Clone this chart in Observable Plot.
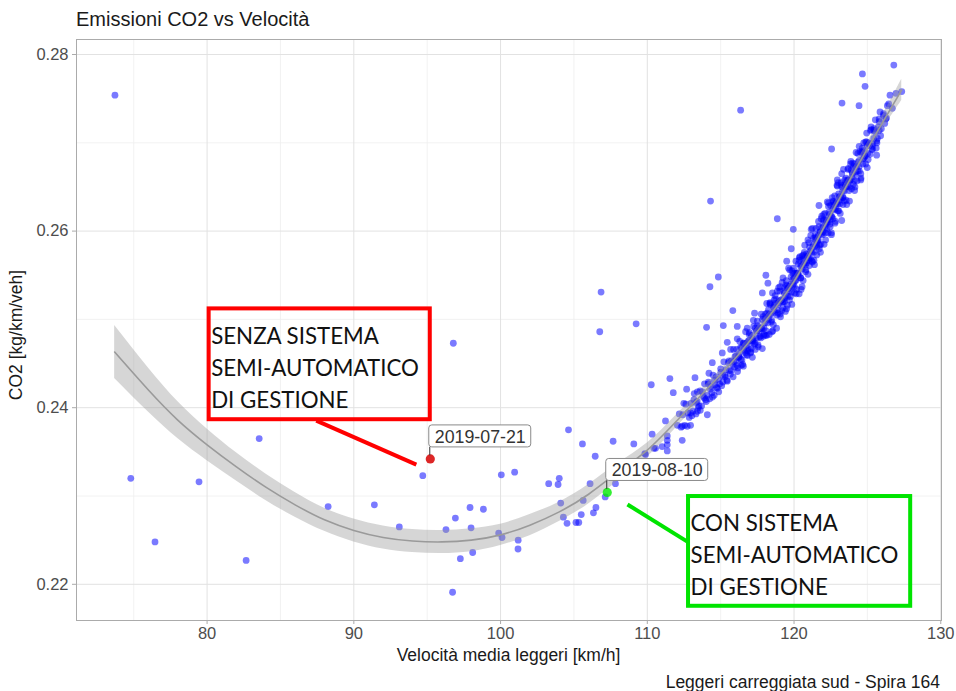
<!DOCTYPE html>
<html><head><meta charset="utf-8">
<script src="https://cdn.jsdelivr.net/npm/d3@7"></script>
<script src="https://cdn.jsdelivr.net/npm/@observablehq/plot@0.6"></script>
<style>
html,body{margin:0;padding:0;background:#fff;}
#chart{position:relative;width:956px;height:691px;overflow:hidden;}
</style></head><body><div id="chart"></div>
<script>
// ---- texts ----
const titleText = "Emissioni CO2 vs Velocità";
const xTitle = "Velocità media leggeri [km/h]";
const yTitle = "CO2 [kg/km/veh]";
const captionText = "Leggeri carreggiata sud - Spira 164";

// ---- ticks ----
const xMajor = [80, 90, 100, 110, 120, 130];
const xMinor = [75, 85, 95, 105, 115, 125];
const yMajor = [0.22, 0.24, 0.26, 0.28];
const yMinor = [0.23, 0.25, 0.27];

// ---- scattered daily observations (speed km/h, CO2 kg/km/veh) ----
const sparseSpeed = [73.72,74.8,76.45,79.45,82.66,83.55,88.25,91.4,93.1,94.7,96.78,96.28,96.92,97.26,96.73,97.92,97.99,98.1,98.83,99.87,100.1,100.05,100.96,101.2,101.19,103.28,104.0,103.92,104.1,104.28,104.53,105.14,105.33,105.5,105.63,106.1,106.33,106.5,107.13,104.63,105.58,106.45,107.67,107.83,109.08,109.83,110.33,110.56,110.27,106.85,106.76,109.24,114.84,114.27,114.31,116.36,118.08,117.84,118.22,118.86,119.95,119.81,119.5,115.83,117.31,114.04,115.18,116.13,116.81,115.45,116.13,117.16,117.84,114.43,115.11,115.68,114.2,111.54,111.77,112.68,113.25,113.41,112.49,111.24,112.38,111.36,111.36,111.36,111.36,111.01,110.45,109.88,112.95,113.41,112.38,112.72,112.95,114.09,121.7,122.95,122.56,123.27,124.43,124.66,124.84,126.8,127.34,126.54,126.36,125.86,125.8,126.18,125.8,125.63,125.0,125.34,125.63,124.13,123.25];
const sparseCo2 = [0.2754,0.2320,0.2248,0.2316,0.2227,0.2365,0.2288,0.2290,0.2265,0.2323,0.2473,0.2262,0.2275,0.2229,0.2191,0.2287,0.2264,0.2236,0.2285,0.2258,0.2253,0.2324,0.2327,0.2250,0.2240,0.2314,0.2320,0.2313,0.2292,0.2276,0.2269,0.2270,0.2270,0.2279,0.2295,0.2314,0.2281,0.2287,0.2299,0.2375,0.2359,0.2345,0.2362,0.2314,0.2359,0.2348,0.2370,0.2354,0.2426,0.2531,0.2486,0.2495,0.2548,0.2537,0.2634,0.2737,0.2550,0.2530,0.2541,0.2614,0.2602,0.2580,0.2566,0.2510,0.2507,0.2491,0.2493,0.2492,0.2490,0.2474,0.2478,0.2457,0.2467,0.2451,0.2462,0.2466,0.2439,0.2433,0.2417,0.2421,0.2434,0.2418,0.2405,0.2385,0.2363,0.2368,0.2363,0.2358,0.2351,0.2356,0.2354,0.2347,0.2394,0.2396,0.2379,0.2379,0.2380,0.2392,0.2629,0.2658,0.2693,0.2745,0.2742,0.2778,0.2764,0.2788,0.2758,0.2754,0.2742,0.2735,0.2727,0.2722,0.2714,0.2702,0.2697,0.2692,0.2686,0.2646,0.2612];

// ---- dense band of observations (first pass) ----
const bandSpeed = [112.05,112.18,112.3,112.42,112.55,112.63,112.77,112.86,112.98,113.1,113.2,113.32,113.4,113.52,113.6,113.7,113.81,113.9,113.97,
114.08,114.15,114.25,114.33,114.4,114.48,114.56,114.62,114.7,114.78,114.85,114.93,115.0,115.07,115.15,115.22,115.3,115.36,115.45,115.52,115.6,115.66,115.74,115.8,115.88,115.95,
116.03,116.1,116.17,116.24,116.3,116.37,116.44,116.5,116.57,116.63,116.7,116.76,116.83,116.9,116.96,117.03,117.1,117.16,117.23,117.3,117.36,117.43,117.5,117.56,117.63,117.7,117.76,117.83,117.9,117.96,
118.03,118.09,118.14,118.2,118.26,118.31,118.37,118.42,118.48,118.53,118.59,118.64,118.7,118.75,118.81,118.86,118.92,118.97,119.03,119.08,119.14,119.19,119.25,119.3,119.36,119.41,119.47,119.52,119.58,119.63,119.69,119.74,119.8,119.85,119.91,119.96,
120.02,120.07,120.13,120.18,120.24,120.29,120.35,120.4,120.46,120.51,120.57,120.62,120.68,120.73,120.79,120.84,120.9,120.95,121.01,121.06,121.12,121.17,121.23,121.28,121.34,121.39,121.45,121.5,121.56,121.61,121.67,121.72,121.78,121.83,121.89,121.94,
122.0,122.05,122.11,122.16,122.22,122.27,122.33,122.38,122.44,122.49,122.55,122.6,122.66,122.71,122.77,122.82,122.88,122.93,122.99,123.04,123.1,123.15,123.21,123.26,123.32,123.37,123.43,123.48,123.54,123.59,123.65,123.7,123.76,123.81,123.87,123.92,123.98,
124.04,124.1,124.17,124.23,124.3,124.36,124.43,124.49,124.56,124.62,124.69,124.75,124.82,124.88,124.95,125.02,125.1,125.18,125.27,125.35,125.44,
125.55,125.68,125.8,125.95,126.1,126.3,126.45,126.7,126.95];
const bandCo2 = [0.2380,0.2393,0.2378,0.2392,0.2380,0.2404,0.2394,0.2389,0.2405,0.2396,0.2416,0.2393,0.2407,0.2402,0.2419,0.2402,0.2413,0.2427,0.2409,
0.2414,0.2427,0.2410,0.2424,0.2417,0.2437,0.2414,0.2426,0.2435,0.2422,0.2432,0.2427,0.2444,0.2425,0.2436,0.2452,0.2435,0.2443,0.2430,0.2451,0.2442,0.2438,0.2453,0.2449,0.2466,0.2446,
0.2453,0.2466,0.2445,0.2460,0.2475,0.2455,0.2468,0.2449,0.2473,0.2464,0.2486,0.2460,0.2474,0.2467,0.2485,0.2462,0.2482,0.2476,0.2499,0.2472,0.2490,0.2479,0.2498,0.2469,0.2491,0.2481,0.2506,0.2489,0.2503,0.2483,
0.2501,0.2487,0.2518,0.2496,0.2511,0.2483,0.2519,0.2506,0.2499,0.2530,0.2494,0.2516,0.2508,0.2523,0.2490,0.2532,0.2507,0.2521,0.2532,0.2503,0.2522,0.2542,0.2513,0.2532,0.2524,0.2509,0.2544,0.2538,0.2526,0.2558,0.2522,0.2538,0.2548,0.2517,0.2545,0.2558,
0.2537,0.2544,0.2566,0.2534,0.2553,0.2563,0.2529,0.2571,0.2547,0.2561,0.2572,0.2544,0.2563,0.2584,0.2554,0.2574,0.2567,0.2551,0.2587,0.2582,0.2569,0.2602,0.2566,0.2582,0.2592,0.2562,0.2590,0.2603,0.2582,0.2589,0.2611,0.2580,0.2599,0.2585,0.2617,0.2596,
0.2612,0.2585,0.2620,0.2608,0.2602,0.2633,0.2598,0.2621,0.2613,0.2629,0.2596,0.2638,0.2614,0.2629,0.2640,0.2611,0.2631,0.2652,0.2623,0.2642,0.2635,0.2620,0.2655,0.2650,0.2638,0.2670,0.2634,0.2650,0.2660,0.2630,0.2658,0.2671,0.2650,0.2657,0.2679,0.2648,0.2666,
0.2653,0.2676,0.2664,0.2689,0.2657,0.2678,0.2673,0.2690,0.2660,0.2689,0.2676,0.2700,0.2685,0.2676,0.2701,0.2688,0.2699,0.2687,0.2715,0.2699,0.2714,
0.2712,0.2705,0.2724,0.2716,0.2733,0.2728,0.2744,0.2739,0.2756];

// ---- dense band of observations (second pass) ----
const band2Speed = [113.04,113.18,113.33,113.47,113.61,113.75,113.88,114.02,114.16,114.3,114.44,114.58,114.72,114.87,115.01,115.15,115.29,115.43,115.57,115.71,115.85,115.98,116.12,116.26,116.4,116.54,116.68,116.82,116.95,117.09,117.22,117.36,117.5,117.64,117.78,117.92,
118.06,118.16,118.27,118.38,118.49,118.6,118.71,118.82,118.93,119.05,119.16,119.27,119.38,119.49,119.6,119.71,119.82,119.93,120.04,120.15,120.26,120.37,120.48,120.59,120.7,120.81,120.92,121.03,121.14,121.25,121.36,121.47,121.58,121.69,121.8,121.91,
122.02,122.13,122.24,122.35,122.46,122.57,122.68,122.79,122.9,123.01,123.12,123.23,123.34,123.45,123.56,123.67,123.78,123.89,124.0,124.11,124.22,124.33,124.44,124.55,124.66,124.77,124.88,124.99,125.1,125.21,125.32,125.43,125.54,125.65];
const band2Co2 = [0.2391,0.2409,0.2406,0.2400,0.2397,0.2418,0.2411,0.2407,0.2429,0.2421,0.2412,0.2431,0.2423,0.2418,0.2440,0.2429,0.2437,0.2431,0.2453,0.2442,0.2435,0.2458,0.2448,0.2458,0.2448,0.2473,0.2462,0.2459,0.2476,0.2467,0.2476,0.2466,0.2493,0.2480,0.2490,0.2481,
0.2482,0.2507,0.2500,0.2517,0.2486,0.2514,0.2527,0.2505,0.2517,0.2537,0.2510,0.2520,0.2536,0.2512,0.2535,0.2556,0.2531,0.2552,0.2530,0.2552,0.2550,0.2570,0.2534,0.2568,0.2576,0.2556,0.2572,0.2567,0.2595,0.2565,0.2567,0.2593,0.2587,0.2605,0.2576,0.2604,
0.2619,0.2598,0.2610,0.2632,0.2605,0.2616,0.2633,0.2609,0.2633,0.2655,0.2631,0.2652,0.2630,0.2653,0.2650,0.2670,0.2634,0.2669,0.2677,0.2657,0.2673,0.2668,0.2696,0.2665,0.2690,0.2683,0.2701,0.2672,0.2700,0.2714,0.2693,0.2705,0.2726,0.2700];

// ---- dense band of observations (third pass) ----
const band3Speed = [116.05,116.15,116.25,116.35,116.45,116.55,116.65,116.75,116.85,116.95,117.05,117.15,117.25,117.35,117.45,117.55,117.65,117.75,117.85,117.95,
118.05,118.15,118.25,118.35,118.45,118.55,118.65,118.75,118.85,118.95,119.05,119.15,119.25,119.35,119.45,119.55,119.65,119.75,119.85,119.95,
120.05,120.15,120.25,120.35,120.45,120.55,120.65,120.75,120.85,120.95,121.05,121.15,121.25,121.35,121.45,121.55,121.65,121.75,121.85,121.95,
122.05,122.15,122.25,122.35,122.45,122.55,122.65,122.75,122.85,122.95,123.05,123.15,123.25,123.35,123.45,123.55,123.65,123.75,123.85,123.95,
124.05,124.15,124.25,124.35,124.45,124.55,124.65,124.75,124.85,124.95,125.05,125.15,125.25,125.35,125.45,125.6,125.75,125.9,126.1,126.25];
const band3Co2 = [0.2458,0.2441,0.2457,0.2468,0.2454,0.2447,0.2472,0.2470,0.2465,0.2483,0.2463,0.2474,0.2492,0.2473,0.2487,0.2471,0.2487,0.2479,0.2500,0.2490,
0.2506,0.2482,0.2504,0.2518,0.2497,0.2487,0.2522,0.2518,0.2511,0.2536,0.2506,0.2522,0.2547,0.2520,0.2539,0.2516,0.2537,0.2526,0.2555,0.2540,
0.2552,0.2529,0.2552,0.2567,0.2547,0.2537,0.2573,0.2570,0.2564,0.2590,0.2561,0.2577,0.2603,0.2576,0.2596,0.2573,0.2595,0.2584,0.2614,0.2599,
0.2613,0.2590,0.2613,0.2628,0.2608,0.2598,0.2634,0.2631,0.2625,0.2651,0.2623,0.2639,0.2665,0.2638,0.2658,0.2635,0.2657,0.2646,0.2676,0.2661,
0.2673,0.2650,0.2673,0.2688,0.2668,0.2658,0.2694,0.2691,0.2685,0.2711,0.2681,0.2697,0.2718,0.2696,0.2716,0.2694,0.2718,0.2708,0.2731,0.2727];

// ---- dense band core ----
const coreSpeed = [115.9,116.2,116.6,116.9,117.2,117.45,117.7,118.0,118.35,118.65,118.95,119.1,119.22,119.34,119.46,119.57,119.68,119.79,119.9,120.01,120.12,120.23,120.34,120.45,120.56,120.67,120.78,120.89,121.0,121.11,121.22,121.33,121.44,121.55,121.66,121.77,121.88,121.99,122.1,122.21,122.32,122.43,122.54,122.65,122.76,122.87,122.98,123.09,123.2,123.31,123.42,123.53,123.64,123.75,123.86,123.97,124.2,124.45,124.7];
const coreCo2 = [0.2452,0.2457,0.2466,0.2476,0.2478,0.2487,0.2490,0.2496,0.2506,0.2510,0.2519,0.2521,0.2520,0.2530,0.2527,0.2535,0.2533,0.2540,0.2538,0.2547,0.2544,0.2552,0.2550,0.2560,0.2557,0.2564,0.2562,0.2571,0.2570,0.2578,0.2576,0.2585,0.2583,0.2592,0.2590,0.2599,0.2597,0.2605,0.2604,0.2612,0.2610,0.2619,0.2617,0.2625,0.2624,0.2632,0.2631,0.2639,0.2638,0.2645,0.2645,0.2652,0.2651,0.2658,0.2658,0.2665,0.2667,0.2680,0.2682];

// ---- smoothed fit with confidence band ----
const fitSpeed = [73.7,76,78,80,82,84,86,88,90,92,94,96,98,100,102,104,106,108,110,112,114,116,118,120,122,124,126,127.34];
const fitCo2  = [0.2463,0.2420,0.2386,0.2358,0.2333,0.2310,0.2290,0.2273,0.2261,0.2253,0.2249,0.2248,0.2250,0.2256,0.2267,0.2282,0.2302,0.2327,0.2352,0.2385,0.2420,0.2456,0.2497,0.2543,0.2603,0.2664,0.2722,0.2760];
const fitLow  = [0.2433,0.2395,0.2365,0.2340,0.2317,0.2295,0.2276,0.2260,0.2248,0.2240,0.2236,0.2235,0.2237,0.2244,0.2255,0.2271,0.2291,0.2317,0.2344,0.2378,0.2414,0.2451,0.2492,0.2538,0.2598,0.2658,0.2714,0.2748];
const fitHigh = [0.2493,0.2445,0.2407,0.2376,0.2349,0.2325,0.2304,0.2286,0.2274,0.2266,0.2262,0.2261,0.2263,0.2268,0.2279,0.2293,0.2313,0.2337,0.2360,0.2392,0.2426,0.2461,0.2502,0.2548,0.2608,0.2670,0.2730,0.2772];

// ---- highlighted days ----
const hlDate = ["2019-07-21", "2019-08-10"];
const hlSpeed = [95.21, 107.27];
const hlCo2 = [0.2342, 0.2304];

// ---- callout boxes (data coordinates) ----
const noteText = ["SENZA SISTEMA\nSEMI-AUTOMATICO\nDI GESTIONE", "CON SISTEMA\nSEMI-AUTOMATICO\nDI GESTIONE"];
const noteX1 = [80.14, 112.81];
const noteX2 = [95.21, 127.95];
const noteYTop = [0.25119, 0.22994];
const noteYBottom = [0.23864, 0.21751];
const leadX1 = [87.44, 108.65];
const leadY1 = [0.23853, 0.22904];
const leadX2 = [94.26, 112.81];
const leadY2 = [0.23356, 0.22475];

// ---- build tables ----
const points = sparseSpeed.map((s, i) => ({speed: s, co2: sparseCo2[i]}))
  .concat(bandSpeed.map((s, i) => ({speed: s, co2: bandCo2[i]})))
  .concat(band2Speed.map((s, i) => ({speed: s, co2: band2Co2[i]})))
  .concat(band3Speed.map((s, i) => ({speed: s, co2: band3Co2[i]})))
  .concat(coreSpeed.map((s, i) => ({speed: s, co2: coreCo2[i]})));
const fit = fitSpeed.map((s, i) => ({speed: s, co2: fitCo2[i], lo: fitLow[i], hi: fitHigh[i]}));
const hlColors = ["rgba(215,0,0,0.85)", "rgba(0,235,0,0.8)"];
const highlights = hlDate.map((d, i) => ({date: d, speed: hlSpeed[i], co2: hlCo2[i], color: hlColors[i]}));
const noteColors = ["#ff0000", "#00e400"];
const notes = noteText.map((t, i) => ({text: t, x1: noteX1[i], x2: noteX2[i], y1: noteYTop[i], y2: noteYBottom[i],
  lx1: leadX1[i], ly1: leadY1[i], lx2: leadX2[i], ly2: leadY2[i], color: noteColors[i]}));

const FONT = "'Liberation Sans', Arial, Helvetica, sans-serif";

const plot = Plot.plot({
  width: 956, height: 691,
  marginLeft: 76, marginRight: 15, marginTop: 39, marginBottom: 71,
  x: {domain: [71.1, 130.05]},
  y: {domain: [0.2159, 0.2817]},
  color: {type: "identity"},
  style: {fontFamily: FONT, fontSize: "16.5px", background: "white", overflow: "visible"},
  marks: [
    Plot.ruleX(xMinor, {stroke: "#efefef", strokeWidth: 0.8}),
    Plot.ruleY(yMinor, {stroke: "#efefef", strokeWidth: 0.8}),
    Plot.ruleX(xMajor, {stroke: "#e2e2e2", strokeWidth: 1}),
    Plot.ruleY(yMajor, {stroke: "#e2e2e2", strokeWidth: 1}),
    Plot.dot(points, {x: "speed", y: "co2", r: 3.4, fill: "#0000ff", fillOpacity: 0.52, stroke: "none"}),
    Plot.areaY(fit, {x: "speed", y1: "lo", y2: "hi", fill: "#999999", fillOpacity: 0.4, curve: "natural"}),
    Plot.line(fit, {x: "speed", y: "co2", stroke: "#9a9a9a", strokeWidth: 1.6, curve: "natural"}),
    Plot.dot(highlights, {x: "speed", y: "co2", r: 4.6, fill: "color", stroke: "none"}),
    Plot.frame({stroke: "#ababab", strokeWidth: 1}),
    Plot.axisX(xMajor, {tickSize: 4, tickPadding: 3, stroke: "#ababab", fill: "#4d4d4d", label: null, tickFormat: d => String(d)}),
    Plot.axisY(yMajor, {tickSize: 4, tickPadding: 4, stroke: "#ababab", fill: "#4d4d4d", label: null, tickFormat: d3.format(".2f")}),
    Plot.link(notes, {x1: "lx1", y1: "ly1", x2: "lx2", y2: "ly2", stroke: "color", strokeWidth: 4}),
    Plot.rect(notes, {x1: "x1", x2: "x2", y1: "y1", y2: "y2", fill: "none", stroke: "color", strokeWidth: 4}),
    Plot.text(notes, {x: "x1", y: "y1", text: "text", textAnchor: "start", lineAnchor: "top", dx: 2, dy: 12,
      fontSize: 22.3, fontFamily: "Lato, 'Open Sans', sans-serif", fontWeight: 400, lineHeight: 1.435, fill: "#111"})
  ]
});

document.getElementById("chart").appendChild(plot);

// ---- labels for highlighted days, titles ----
const svg = d3.select(plot);
const sx = plot.scale("x"), sy = plot.scale("y");
highlights.forEach(h => {
  const px = sx.apply(h.speed), py = sy.apply(h.co2);
  const g = svg.append("g");
  g.append("line").attr("x1", px).attr("x2", px).attr("y1", py - 3).attr("y2", py - 11.5)
    .attr("stroke", "#333").attr("stroke-width", 1);
  const r = g.append("rect");
  const t = g.append("text").attr("x", px + 5).attr("y", py - 15.5).attr("text-anchor", "start").text(h.date)
    .attr("font-family", FONT).attr("font-size", "17.8px").attr("fill", "#333");
  const w = t.node().getComputedTextLength();
  r.attr("x", px - 1).attr("y", py - 33.5).attr("width", w + 11).attr("height", 22)
    .attr("rx", 3).attr("fill", "white").attr("stroke", "#8a8a8a").attr("stroke-width", 1);
});

svg.append("text").attr("x", 76).attr("y", 26).attr("text-anchor", "start").text(titleText)
  .attr("font-family", FONT).attr("font-size", "20px").attr("fill", "#1a1a1a");
svg.append("text").attr("x", 508.5).attr("y", 661).attr("text-anchor", "middle").text(xTitle)
  .attr("font-family", FONT).attr("font-size", "17.5px").attr("fill", "#1a1a1a");
svg.append("text").attr("transform", "translate(22,335) rotate(-90)").attr("text-anchor", "middle").text(yTitle)
  .attr("font-family", FONT).attr("font-size", "17.5px").attr("fill", "#1a1a1a");
svg.append("text").attr("x", 940).attr("y", 688).attr("text-anchor", "end").text(captionText)
  .attr("font-family", FONT).attr("font-size", "17.5px").attr("fill", "#1a1a1a");
</script>
</body></html>
